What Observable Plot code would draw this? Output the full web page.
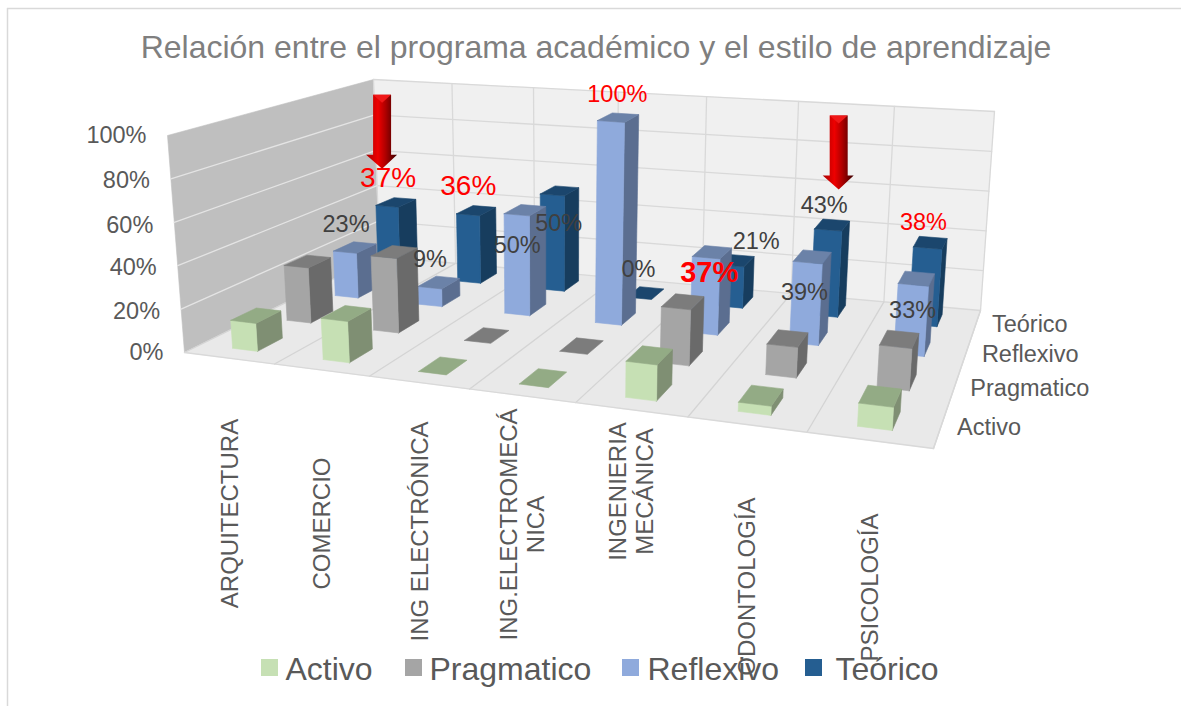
<!DOCTYPE html>
<html lang="es">
<head>
<meta charset="utf-8">
<style>
  html, body { margin: 0; padding: 0; background: #fff; }
  svg { display: block; }
</style>
<script src="https://cdn.jsdelivr.net/npm/d3@7"></script>
<script src="https://cdn.jsdelivr.net/npm/@observablehq/plot@0.6"></script>
</head>
<body>
<div id="chart"></div>
<script>
// ---- data ----
const titleText = "Relación entre el programa académico y el estilo de aprendizaje";
const categories = ["ARQUITECTURA", "COMERCIO", "ING ELECTRÓNICA", "ING.ELECTROMECÁ\nNICA", "INGENIERIA\nMECÁNICA", "ODONTOLOGÍA", "PSICOLOGÍA"];
const seriesNames = ["Activo", "Pragmatico", "Reflexivo", "Teórico"];
const activo     = [13, 19, 0, 0, 16, 4, 10];
const pragmatico = [27, 36, 0, 0, 26, 14, 19];
const reflexivo  = [23, 9, 50, 100, 37, 39, 33];
const teorico    = [37, 36, 50, 0, 21, 43, 38];
const valueTicks = [0, 20, 40, 60, 80, 100];

// ---- styles and layout (not data) ----
const values = [activo, pragmatico, reflexivo, teorico];
const barColors = [
  {front: "#C6E0B4", side: "#7F8F73", top: "#93AB85"},
  {front: "#A5A5A5", side: "#6A6A6A", top: "#7C7C7C"},
  {front: "#8FAADC", side: "#5B6E90", top: "#6B82A8"},
  {front: "#255E91", side: "#173D5E", top: "#1B466D"}
];
// frame of the 3D box: corners of the floor and of the ceiling
const floorQuad = [[184, 352], [933, 448], [980, 310], [379, 256]];
const topQuad   = [[167, 135], [948, 212], [994, 111], [373, 79]];
const floorWarp = [1.027, 1.036], topWarp = [1.27, 1.2];

function homography(q) {
  const [[x0, y0], [x1, y1], [x2, y2], [x3, y3]] = q;
  const dx1 = x1 - x2, dx2 = x3 - x2, sx = x0 - x1 + x2 - x3;
  const dy1 = y1 - y2, dy2 = y3 - y2, sy = y0 - y1 + y2 - y3;
  const det = dx1 * dy2 - dx2 * dy1;
  const g = (sx * dy2 - dx2 * sy) / det, h = (dx1 * sy - sx * dy1) / det;
  const a = x1 - x0 + g * x1, b = x3 - x0 + h * x3, d = y1 - y0 + g * y1, e = y3 - y0 + h * y3;
  return (u, v) => {
    const k = g * u + h * v + 1;
    return [(a * u + b * v + x0) / k, (d * u + e * v + y0) / k];
  };
}
const floorH = homography(floorQuad), topH = homography(topQuad);
const warped = (u, v, [front, back]) => {
  const k = front + (back - front) * v;
  return k * u / (1 + (k - 1) * u);
};
// u: along categories, v: along series (front to back), w: value 0..1
function project(u, v, w) {
  const [x0, y0] = floorH(warped(u, v, floorWarp), v), [x1, y1] = topH(warped(u, v, topWarp), v);
  return {x: x0 + (x1 - x0) * w, y: y0 + (y1 - y0) * w};
}

const nC = categories.length, nS = seriesNames.length;
const barU = 0.28, barV = 0.45;
let faceId = 0;
const polygon = (pts, color) => {
  const id = faceId++;
  return [...pts, pts[0]].map(p => ({...p, id, color}));
};
const barOf = (c, s) => ({
  u0: (c + .5 - barU / 2) / nC, u1: (c + .5 + barU / 2) / nC,
  v0: (s + .5 - barV / 2) / nS, v1: (s + .5 + barV / 2) / nS,
  w: values[s][c] / 100
});

// walls and floor
const walls = [
  ...polygon([project(0, 0, 0), project(0, 1, 0), project(0, 1, 1), project(0, 0, 1)], "#BFBFBF"),
  ...polygon([project(0, 1, 0), project(1, 1, 0), project(1, 1, 1), project(0, 1, 1)], "#F0F0F0"),
  ...polygon([project(0, 0, 0), project(1, 0, 0), project(1, 1, 0), project(0, 1, 0)], "#E9E9E9")
];
const segment = (a, b, color) => {
  const id = faceId++;
  return [a, b].map(p => ({...p, id, color}));
};
const backGrid = [];
for (const t of valueTicks) backGrid.push(...segment(project(0, 1, t / 100), project(1, 1, t / 100), "#D9D9D9"));
for (let k = 0; k <= nC; k++) backGrid.push(...segment(project(k / nC, 1, 0), project(k / nC, 1, 1), "#D9D9D9"));
for (let k = 0; k <= nC; k++) backGrid.push(...segment(project(k / nC, 0, 0), project(k / nC, 1, 0), "#D4D4D4"));
backGrid.push(...segment(project(0, 0, 0), project(1, 0, 0), "#D9D9D9"));
backGrid.push(...segment(project(1, 0, 0), project(1, 1, 0), "#D9D9D9"));
const leftGrid = [];
for (const t of valueTicks.slice(1, -1)) leftGrid.push(...segment(project(0, 0, t / 100), project(0, 1, t / 100), "#E4E4E4"));

// bars, painted back row first, left to right
const faces = [];
for (let s = nS - 1; s >= 0; s--) {
  for (let c = 0; c < nC; c++) {
    const {u0, u1, v0, v1, w} = barOf(c, s), col = barColors[s];
    if (w > 0) {
      faces.push(...polygon([project(u1, v0, 0), project(u1, v1, 0), project(u1, v1, w), project(u1, v0, w)], col.side));
      faces.push(...polygon([project(u0, v0, 0), project(u1, v0, 0), project(u1, v0, w), project(u0, v0, w)], col.front));
    }
    faces.push(...polygon([project(u0, v0, w), project(u1, v0, w), project(u1, v1, w), project(u0, v1, w)], col.top));
  }
}

// value labels: anchored on the top of their bar, shifted by a pixel offset
const barTop = (c, s) => {
  const {u0, u1, v0, v1, w} = barOf(c, s);
  return project((u0 + u1) / 2, (v0 + v1) / 2, w);
};
const red = "#FF0000", dark = "#404040";
const labelSpec = [
  [0, 3, red, 28, -8, -24, false], [0, 2, dark, 23.5, -9, -23, false],
  [1, 3, red, 28, -8, -24, false], [1, 2, dark, 23.5, -9, -23, false],
  [2, 3, dark, 23.5, -1, 33, false], [2, 2, dark, 23.5, -8, 35, false],
  [3, 2, red, 23.5, -1, -23, false], [3, 3, dark, 23.5, -7, -24, false],
  [4, 2, red, 29, -3, 21, true], [4, 3, dark, 23.5, 20, -19, false],
  [5, 3, dark, 23.5, -8, -19, false], [5, 2, dark, 23.5, -8, 36, false],
  [6, 3, red, 23.5, -7, -20, false], [6, 2, dark, 23.5, -4, 32, false]
];
const labelRows = labelSpec.map(([c, s, color, size, dx, dy, bold]) => {
  const p = barTop(c, s);
  return {x: p.x + dx, y: p.y + dy, text: values[s][c] + "%", color, size, bold};
});

// the two red arrows point at a bar's top
const arrowSpec = [{c: 0, s: 3, dx: -15, dy: -33.5}, {c: 5, s: 3, dx: 5.5, dy: -35.5}];
const arrowBody = [], arrowCap = [];
for (const {c, s, dx, dy} of arrowSpec) {
  const t = barTop(c, s), tx = t.x + dx, ty = t.y + dy;
  const at = (a, b) => ({x: tx + a, y: ty + b});
  arrowBody.push(...polygon([at(-8, -74), at(10, -74), at(10, -14), at(16, -14), at(1, 0), at(-15, -14), at(-8, -14)], "x"));
  arrowCap.push(...polygon([at(-8, -74), at(10, -74), at(1, -66)], "x"));
}

// category labels hang under the front edge of the floor
const categoryCenters = [513, 523, 531, 524, 491, 586, 587];
const categoryRows = categories.map((name, c) => {
  const p = project((c + .5) / nC, 0, 0);
  return {x: p.x, y: categoryCenters[c], text: name};
});

// value axis and series axis
const tickNudge = [0, 2, 2, 3, 2, 0];
const tickRows = valueTicks.map((t, i) => {
  const p = project(0, 0, t / 100);
  return {x: p.x - 21, y: p.y + tickNudge[i], text: t + "%"};
});
const seriesRows = seriesNames.map((name, s) => {
  const p = project(1, (s + .5) / nS, 0);
  return {x: p.x + 16, y: p.y + 1, text: name};
});

// legend
const legendX = [261, 405, 622, 805];
const legendTextX = [285, 429, 647, 835];
const legendRows = seriesNames.map((name, s) => ({x: legendX[s], tx: legendTextX[s], name, color: barColors[s].front}));

const font = "'Liberation Sans', Arial, sans-serif";
const poly = (rows) => Plot.line(rows, {x: "x", y: "y", z: "id", fill: "color", stroke: "color", strokeWidth: 0.6, strokeLinejoin: "round", curve: "linear"});
const rule = (rows) => Plot.line(rows, {x: "x", y: "y", z: "id", stroke: "color", strokeWidth: 1.3, curve: "linear"});

const chart = Plot.plot({
  width: 1181,
  height: 706,
  margin: 0,
  x: {domain: [0, 1181], range: [0, 1181], axis: null},
  y: {domain: [0, 706], range: [0, 706], axis: null},
  color: {type: "identity"},
  style: {fontFamily: font, background: "#fff"},
  marks: [
    () => {
      const defs = document.createElementNS("http://www.w3.org/2000/svg", "defs");
      defs.innerHTML = `<linearGradient id="arrowShade" x1="0" x2="1" y1="0" y2="0">
        <stop offset="0" stop-color="#A80000"/><stop offset="0.38" stop-color="#EE0000"/>
        <stop offset="0.62" stop-color="#B00000"/><stop offset="1" stop-color="#3A0000"/></linearGradient>`;
      return defs;
    },
    Plot.ruleY([8], {x1: 7, x2: 1181, stroke: "#D9D9D9", strokeWidth: 1.5}),
    Plot.ruleX([7], {y1: 8, y2: 706, stroke: "#D9D9D9", strokeWidth: 1.5}),
    poly(walls),
    rule(backGrid),
    rule(leftGrid),
    poly(faces),
    Plot.text(labelRows.filter(d => !d.bold), {x: "x", y: "y", text: "text", fill: "color", fontSize: "size"}),
    Plot.text(labelRows.filter(d => d.bold), {x: "x", y: "y", text: "text", fill: "color", fontSize: "size", fontWeight: "bold"}),
    Plot.line(arrowBody, {x: "x", y: "y", z: "id", fill: "url(#arrowShade)", stroke: "none"}),
    Plot.line(arrowCap, {x: "x", y: "y", z: "id", fill: "#F01818", stroke: "none"}),
    Plot.text([titleText], {x: () => 595.5, y: () => 47, text: d => d, fill: "#7F7F7F", fontSize: 32}),
    Plot.text(tickRows, {x: "x", y: "y", text: "text", textAnchor: "end", fill: "#595959", fontSize: 23.5}),
    Plot.text(seriesRows, {x: "x", y: "y", text: "text", textAnchor: "start", fill: "#595959", fontSize: 23.5}),
    Plot.text(categoryRows, {x: "x", y: "y", text: "text", rotate: -90, fill: "#595959", fontSize: 24, lineHeight: 1.13}),
    Plot.rect(legendRows, {x1: "x", x2: d => d.x + 17, y1: () => 659, y2: () => 676, fill: "color"}),
    Plot.text(legendRows, {x: "tx", y: () => 669, text: "name", textAnchor: "start", fill: "#595959", fontSize: 32})
  ]
});
document.getElementById("chart").append(chart);
</script>
</body>
</html>
